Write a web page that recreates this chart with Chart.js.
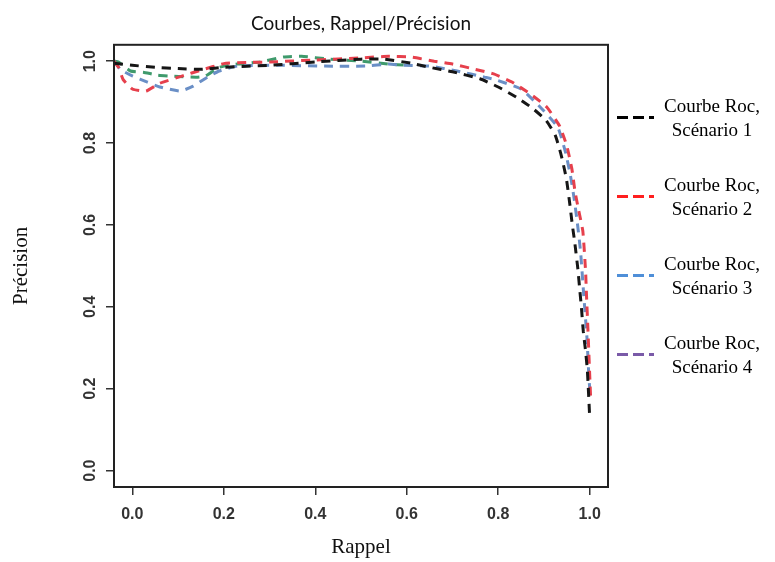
<!DOCTYPE html>
<html lang="fr">
<head>
<meta charset="utf-8">
<title>Courbes, Rappel/Précision</title>
<script src="https://cdn.jsdelivr.net/npm/chart.js@4.4.1/dist/chart.umd.min.js"></script>
<style>
  html, body { margin: 0; padding: 0; background: #fff; }
  #wrap { position: relative; width: 775px; height: 562px; }
  #legend { position: absolute; left: 617px; top: 78px; }
  .item { display: flex; align-items: center; height: 79px; }
  .swatch { width: 37px; height: 3px; }
  .txt { margin-left: 9px; width: 98px; text-align: center; font-family: "Liberation Serif", serif; font-size: 19px; line-height: 24px; color: #000; }
</style>
</head>
<body>
<div id="wrap">
  <canvas id="prChart" width="775" height="562"></canvas>
  <div id="legend"></div>
</div>
<script>
// Noms des courbes (deux lignes dans la légende)
var seriesLabels = [
  ['Courbe Roc,', 'Scénario 1'],
  ['Courbe Roc,', 'Scénario 2'],
  ['Courbe Roc,', 'Scénario 3'],
  ['Courbe Roc,', 'Scénario 4']
];

// Scénario 1
var rappel1 = [-0.04, 0.0, 0.05, 0.10, 0.15, 0.20, 0.30, 0.40, 0.50, 0.55, 0.61, 0.65, 0.70, 0.76, 0.80, 0.84, 0.875, 0.905, 0.925, 0.938, 0.949, 0.957, 0.962, 0.967, 0.974, 0.978, 0.982, 0.986, 0.991, 0.995, 1.0];
var precision1 = [0.995, 0.99, 0.985, 0.982, 0.98, 0.985, 0.99, 0.998, 1.005, 1.005, 0.995, 0.985, 0.974, 0.957, 0.937, 0.912, 0.885, 0.855, 0.818, 0.769, 0.713, 0.647, 0.60, 0.56, 0.494, 0.445, 0.397, 0.34, 0.292, 0.243, 0.13];

// Scénario 2
var rappel2 = [-0.04, -0.03, -0.02, 0.0, 0.03, 0.06, 0.11, 0.15, 0.20, 0.25, 0.30, 0.40, 0.50, 0.56, 0.61, 0.66, 0.70, 0.75, 0.79, 0.83, 0.87, 0.906, 0.934, 0.95, 0.961, 0.968, 0.976, 0.985, 0.991, 0.993, 0.996, 1.0, 1.002];
var precision2 = [1.0, 0.985, 0.955, 0.932, 0.927, 0.946, 0.964, 0.978, 0.994, 0.997, 0.998, 1.003, 1.008, 1.012, 1.01, 1.0, 0.993, 0.98, 0.969, 0.949, 0.92, 0.888, 0.842, 0.793, 0.737, 0.681, 0.635, 0.585, 0.487, 0.428, 0.348, 0.234, 0.178];

// Scénario 3
var rappel3 = [-0.04, -0.026, 0.0, 0.033, 0.06, 0.105, 0.133, 0.164, 0.19, 0.23, 0.32, 0.42, 0.51, 0.56, 0.59, 0.65, 0.71, 0.77, 0.79, 0.85, 0.89, 0.93, 0.947, 0.958, 0.966, 0.973, 0.98, 0.987, 0.994, 0.998, 1.0];
var precision3 = [1.0, 0.98, 0.964, 0.949, 0.937, 0.927, 0.939, 0.961, 0.976, 0.988, 0.99, 0.988, 0.988, 0.993, 0.99, 0.988, 0.976, 0.961, 0.956, 0.932, 0.89, 0.839, 0.778, 0.72, 0.664, 0.605, 0.535, 0.428, 0.324, 0.234, 0.20];

// Scénario 4 (rejoint la courbe 3 vers un rappel de 0,6)
var rappel4 = [-0.04, -0.03, -0.004, 0.024, 0.055, 0.09, 0.14, 0.16, 0.19, 0.23, 0.28, 0.33, 0.37, 0.43, 0.50, 0.56, 0.60];
var precision4 = [1.0, 0.998, 0.976, 0.973, 0.966, 0.963, 0.961, 0.964, 0.985, 0.993, 0.998, 1.01, 1.012, 1.005, 1.0, 0.993, 0.99];

// Graduations des deux axes
var tickValues = [0.0, 0.2, 0.4, 0.6, 0.8, 1.0];

var lineColors = ['#161616', '#e6404c', '#6a8fc6', '#3f9a6c'];
var legendColors = ['#000000', '#ff1f1f', '#4f8fd8', '#7a5aa8'];

function toPoints(xs, ys) {
    return xs.map(function (x, i) { return { x: x, y: ys[i] }; });
}

var allRappel = [rappel1, rappel2, rappel3, rappel4];
var allPrecision = [precision1, precision2, precision3, precision4];

var datasets = seriesLabels.map(function (lbl, i) {
    return {
        label: lbl.join(' '),
        data: toPoints(allRappel[i], allPrecision[i]),
        borderColor: lineColors[i],
        borderWidth: 3,
        borderDash: [9, 7],
        pointRadius: 0,
        tension: 0.15,
        fill: false
    };
});

// Cadre autour de la zone de tracé
var frameBox = {
    id: 'frameBox',
    afterDraw: function (chart) {
        var a = chart.chartArea, ctx = chart.ctx;
        ctx.save();
        ctx.strokeStyle = '#222';
        ctx.lineWidth = 2;
        ctx.strokeRect(a.left, a.top, a.right - a.left, a.bottom - a.top);
        ctx.restore();
    }
};

function keepTicks(scale) {
    scale.ticks = tickValues.map(function (v) { return { value: v }; });
}

var tickFont = { family: '"Liberation Sans", Arial, sans-serif', size: 16, weight: 'bold' };

var chart = new Chart(document.getElementById('prChart').getContext('2d'), {
    type: 'line',
    data: { datasets: datasets },
    plugins: [frameBox],
    options: {
        responsive: false,
        animation: false,
        layout: { padding: { left: 0, right: 167, top: 0, bottom: 0 } },
        plugins: {
            legend: { display: false },
            tooltip: { enabled: false },
            title: {
                display: true,
                fullSize: false,
                text: 'Courbes, Rappel/Précision',
                color: '#111',
                font: { family: 'Lato, sans-serif', size: 19, weight: 'normal' },
                padding: { top: 12, bottom: 10 }
            }
        },
        scales: {
            x: {
                type: 'linear',
                min: -0.04,
                max: 1.04,
                afterBuildTicks: keepTicks,
                afterFit: function (s) { s.height = 75; },
                border: { display: false },
                grid: { drawOnChartArea: false, drawTicks: true, tickLength: 8, color: '#333', lineWidth: 1.5 },
                ticks: {
                    padding: 10,
                    color: '#333',
                    font: tickFont,
                    maxRotation: 0,
                    callback: function (v) { return v.toFixed(1); }
                },
                title: {
                    display: true,
                    text: 'Rappel',
                    color: '#111',
                    font: { family: '"Liberation Serif", serif', size: 21 },
                    padding: { top: 0, bottom: 2 }
                }
            },
            y: {
                min: -0.04,
                max: 1.04,
                afterBuildTicks: keepTicks,
                afterFit: function (s) { s.width = 114; },
                border: { display: false },
                grid: { drawOnChartArea: false, drawTicks: true, tickLength: 8, color: '#333', lineWidth: 1.5 },
                ticks: {
                    padding: 4,
                    crossAlign: 'center',
                    minRotation: 90,
                    maxRotation: 90,
                    color: '#333',
                    font: tickFont,
                    callback: function (v) { return v.toFixed(1); }
                },
                title: {
                    display: true,
                    text: 'Précision',
                    color: '#111',
                    font: { family: '"Liberation Serif", serif', size: 21 },
                    padding: { top: 9, bottom: 0 }
                }
            }
        }
    }
});

// Légende à droite, construite à partir des séries
var legendEl = document.getElementById('legend');
seriesLabels.forEach(function (lines, i) {
    var item = document.createElement('div');
    item.className = 'item';
    var sw = document.createElement('div');
    sw.className = 'swatch';
    sw.style.background = 'repeating-linear-gradient(to right, ' + legendColors[i] + ' 0 11px, transparent 11px 16px)';
    var txt = document.createElement('div');
    txt.className = 'txt';
    txt.innerHTML = lines.join('<br>');
    item.appendChild(sw);
    item.appendChild(txt);
    legendEl.appendChild(item);
});
</script>
</body>
</html>
